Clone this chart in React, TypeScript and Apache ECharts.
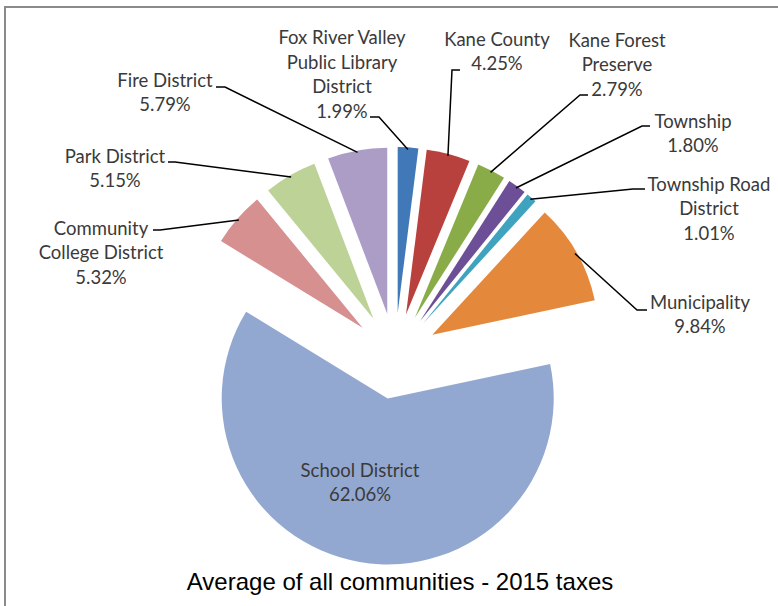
import React, { useEffect, useRef } from "react";
import * as echarts from "echarts";

const categories: string[] = [
  "Fox River Valley\nPublic Library\nDistrict",
  "Kane County",
  "Kane Forest\nPreserve",
  "Township",
  "Township Road\nDistrict",
  "Municipality",
  "School District",
  "Community\nCollege District",
  "Park District",
  "Fire District",
];
const shares: number[] = [1.99, 4.25, 2.79, 1.8, 1.01, 9.84, 62.06, 5.32, 5.15, 5.79];
const colors: string[] = [
  "#4178b8",
  "#b9413d",
  "#8aac48",
  "#6c4f96",
  "#3fa3bf",
  "#e4883c",
  "#93a8d0",
  "#d69090",
  "#bdd296",
  "#ab9dc6",
];
const titleText = "Average of all communities - 2015 taxes";

// layout (pixels)
const CX = 395;
const CY = 356;
const R = 166;
const OFFSET = 43;
const labelCenters: [number, number][] = [
  [342, 74],
  [497, 51],
  [617, 64],
  [693, 133],
  [709, 208],
  [700, 314],
  [360, 482],
  [101, 252],
  [115, 168],
  [165, 92],
];
const elbows: ([number, number][] | null)[] = [
  [[379, 117], [370, 117]],
  [[452, 70], [460, 70]],
  [[580, 95], [588, 95]],
  [[642, 126], [650, 126]],
  [[633, 189], [645, 189]],
  [[637, 310], [647, 310]],
  null,
  [[160, 230], [153, 230]],
  [[175, 162], [168, 162]],
  [[225, 87], [216, 87]],
];

export default function App() {
  const ref = useRef<HTMLDivElement>(null);
  useEffect(() => {
    if (!ref.current) return;
    const chart = echarts.init(ref.current, undefined, { renderer: "svg" });
    const total = shares.reduce((a, b) => a + b, 0);
    const mids: number[] = [];
    let cum = 0;
    shares.forEach((v) => {
      mids.push(((cum + v / 2) / total) * 2 * Math.PI);
      cum += v;
    });
    const edgePoint = (i: number): [number, number] => {
      const a = mids[i];
      const rr = OFFSET + R - 2;
      return [CX + rr * Math.sin(a), CY - rr * Math.cos(a)];
    };
    const labelGraphics: any[] = [];
    categories.forEach((name, i) => {
      const e = elbows[i];
      if (e) {
        labelGraphics.push({
          type: "polyline",
          z: 10,
          shape: { points: [edgePoint(i), e[0], e[1]] },
          style: { stroke: "#000000", lineWidth: 1.5, fill: "none" },
        });
      }
      labelGraphics.push({
        type: "text",
        z: 10,
        x: labelCenters[i][0],
        y: labelCenters[i][1],
        style: {
          text: `${name}\n${shares[i].toFixed(2)}%`,
          align: "center",
          verticalAlign: "middle",
          fontFamily: "Lato, Noto Sans, sans-serif",
          fontSize: 18.5,
          lineHeight: 24.5,
          fill: "#3a3a3a",
        },
      });
    });
    chart.setOption({
      animation: false,
      backgroundColor: "#ffffff",
      graphic: [
        {
          type: "polyline",
          shape: { points: [[5, 606], [5, 7], [778, 7]] },
          style: { stroke: "#8a8a8a", lineWidth: 2, fill: "none" },
        },
        {
          type: "text",
          x: 400,
          y: 581,
          style: {
            text: titleText,
            align: "center",
            verticalAlign: "middle",
            fontFamily: "Liberation Sans, Arial, sans-serif",
            fontSize: 24,
            fill: "#000000",
          },
        },
        ...labelGraphics,
      ],
      series: [
        {
          type: "pie",
          center: [CX, CY],
          radius: [0, R],
          startAngle: 90,
          clockwise: true,
          selectedMode: "multiple",
          selectedOffset: OFFSET,
          avoidLabelOverlap: false,
          emphasis: { disabled: true },
          data: categories.map((name, i) => ({
            name,
            value: shares[i],
            selected: true,
            itemStyle: { color: colors[i] },
          })),
          itemStyle: { borderWidth: 0 },
          select: { itemStyle: { borderWidth: 0 } },
          label: { show: false },
          labelLine: { show: false },
        },
      ],
    });
    return () => chart.dispose();
  }, []);
  return (
    <div
      ref={ref}
      style={{ position: "absolute", left: 0, top: 0, width: 778, height: 606 }}
    />
  );
}
